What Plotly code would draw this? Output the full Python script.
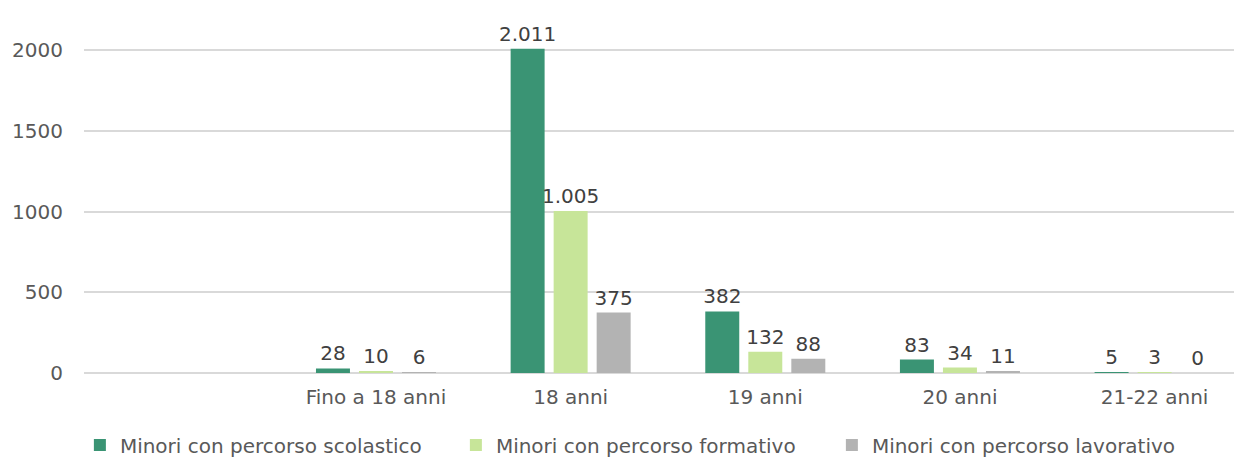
import plotly.graph_objects as go

categories = [" ", "Fino a 18 anni", "18 anni", "19 anni", "20 anni", "21-22 anni"]
series_names = ["Minori con percorso scolastico", "Minori con percorso formativo", "Minori con percorso lavorativo"]
scolastico = [None, 28, 2011, 382, 83, 5]
formativo = [None, 10, 1005, 132, 34, 3]
lavorativo = [None, 6, 375, 88, 11, 0]
colors = ["#3A9474", "#C7E599", "#B3B3B3"]
y_ticks = [0, 500, 1000, 1500, 2000]

FONT = "DejaVu Sans"
FS = 20
fig = go.Figure()
for name, vals, col in zip(series_names, [scolastico, formativo, lavorativo], colors):
    fig.add_trace(go.Bar(
        x=categories, y=vals, name=name, marker=dict(color=col, line=dict(width=0)),
        texttemplate="%{y:,}", textposition="outside", cliponaxis=False,
        constraintext="none",
        textfont=dict(family=FONT, size=FS, color="#404040"),
    ))

# page body has an 8px margin, so figure is 8px smaller and shifted
fig.update_layout(
    width=1234, height=452,
    margin=dict(l=76, r=0, t=40, b=87, autoexpand=False),
    paper_bgcolor="white", plot_bgcolor="white",
    barmode="group", bargap=0.337, bargroupgap=0.21,
    separators=",.",
    font=dict(family=FONT, size=FS, color="#595959"),
    showlegend=True,
    legend=dict(orientation="h", xref="container", x=0.5153, xanchor="center",
                yref="container", y=0.033, yanchor="middle",
                font=dict(family=FONT, size=FS, color="#595959"), itemwidth=30,
                entrywidth=331, entrywidthmode="pixels",
                tracegroupgap=0, traceorder="normal"),
)
fig.update_xaxes(type="category", categoryorder="array", categoryarray=categories,
                 range=[-0.5, 5.449], showgrid=False, showline=False, zeroline=False,
                 ticks="", tickfont=dict(family=FONT, size=FS, color="#595959"),
                 ticklabelstandoff=10, automargin=False)
fig.update_yaxes(range=[0, 2015], tickvals=y_ticks, ticktext=[str(v) for v in y_ticks],
                 showgrid=True, gridcolor="#D9D9D9", gridwidth=2, zeroline=True,
                 zerolinecolor="#D9D9D9", zerolinewidth=2, showline=False, ticks="",
                 tickfont=dict(family=FONT, size=FS, color="#595959"),
                 ticklabelstandoff=20, automargin=False)

fig.write_html("out.html")
